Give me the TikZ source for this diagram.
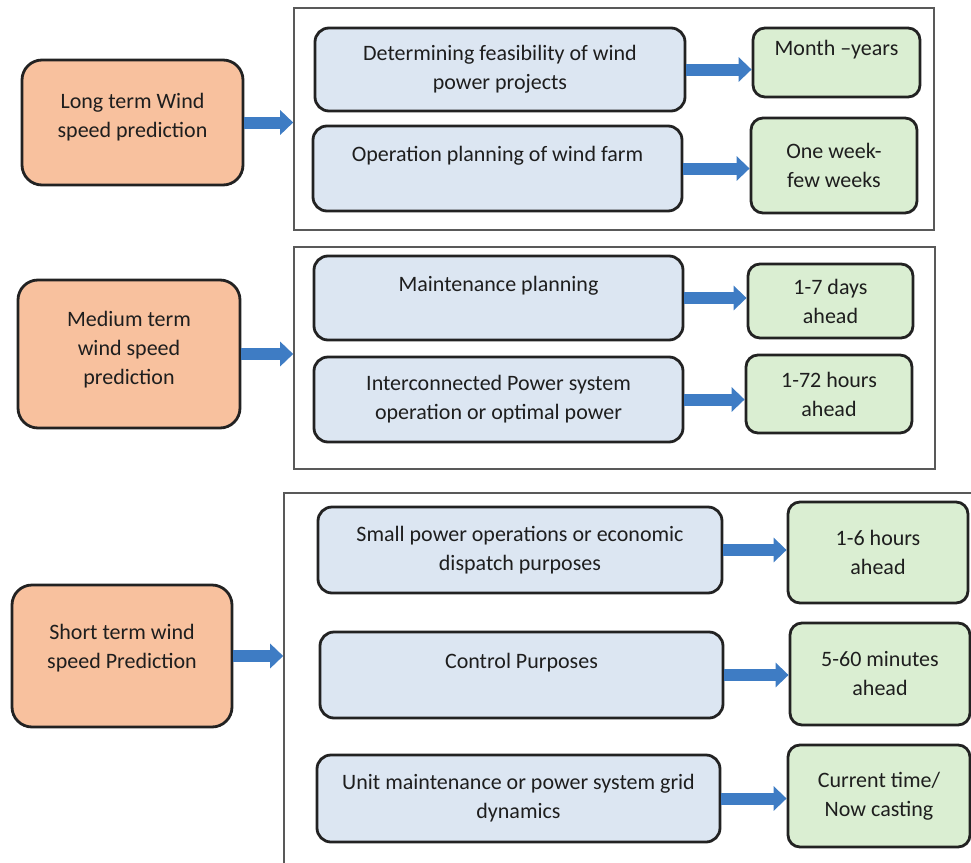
\documentclass[tikz,border=0pt]{standalone}
\usepackage{fontspec}
\setmainfont{Carlito}
\usetikzlibrary{arrows.meta}

\definecolor{termfill}{RGB}{248,193,158}
\definecolor{taskfill}{RGB}{220,230,242}
\definecolor{horizonfill}{RGB}{218,238,210}
\definecolor{flowblue}{RGB}{62,124,196}
\definecolor{edgegray}{RGB}{34,34,34}
\definecolor{textgray}{RGB}{30,30,30}

\tikzset{
  base/.style={draw=edgegray, line width=1.4pt, align=center, text=textgray,
    font=\fontsize{11}{14.5}\selectfont, inner sep=2pt},
  term/.style={base, fill=termfill, rounded corners=10pt},
  task/.style={base, fill=taskfill, rounded corners=7pt},
  horizon/.style={base, fill=horizonfill, rounded corners=6pt},
  group/.style={draw=black!65, line width=0.8pt},
  flow/.style={draw=flowblue, line width=6pt, -{Triangle[length=6.5pt,width=12pt]}},
}

\begin{document}
\begin{tikzpicture}[x=0.5pt,y=-0.5pt]
    \useasboundingbox (0,0) rectangle (971,863);
    \clip (0,0) rectangle (971,863);

    % Frames
    \node[group, minimum width=320pt, minimum height=111pt] (fl) at (614,119) {};
    \node[group, minimum width=320.5pt, minimum height=111pt] (fm) at (614.5,358) {};
    \node[group, minimum width=358pt, minimum height=203.5pt] (fs) at (642,696.5) {};

    % Prediction terms
    \node[term, minimum width=110.5pt, minimum height=62.5pt] (long) at (132.5,122.5) {Long term Wind\\speed prediction\\[-7pt]\mbox{}};
    \node[term, minimum width=111pt, minimum height=74pt] (medium) at (129,354) {Medium term\\wind speed\\prediction\\[-8pt]\mbox{}};
    \node[term, minimum width=110pt, minimum height=71pt] (short) at (122,656) {Short term wind\\speed Prediction\\[-5pt]\mbox{}};

    % Applications
    \node[task, minimum width=185pt, minimum height=41.5pt] (t1) at (500,69.5) {Determining feasibility of wind\\power projects};
    \node[task, minimum width=184.5pt, minimum height=42.5pt] (t2) at (497.5,168.5) {Operation planning of wind farm\\ \mbox{}};
    \node[task, minimum width=184.5pt, minimum height=42pt] (t3) at (498.5,298) {Maintenance planning\\ \mbox{}};
    \node[task, minimum width=184.5pt, minimum height=42.5pt] (t4) at (498.5,399.5) {Interconnected Power system\\operation or optimal power};
    \node[task, minimum width=202pt, minimum height=43pt] (t5) at (520,550) {Small power operations or economic\\dispatch purposes};
    \node[task, minimum width=201.5pt, minimum height=43pt] (t6) at (521.5,675) {Control Purposes\\ \mbox{}};
    \node[task, minimum width=201.5pt, minimum height=43.5pt] (t7) at (518.5,798.5) {Unit maintenance or power system grid\\dynamics};

    % Time horizons
    \node[horizon, minimum width=83.5pt, minimum height=34.5pt] (h1) at (836.5,62.5) {Month –years\\ \mbox{}};
    \node[horizon, minimum width=83pt, minimum height=47.5pt] (h2) at (834,165.5) {One week-\\few weeks};
    \node[horizon, minimum width=82.5pt, minimum height=37pt] (h3) at (830.5,301) {1-7 days\\ahead};
    \node[horizon, minimum width=83pt, minimum height=39pt] (h4) at (829,394) {1-72 hours\\ahead};
    \node[horizon, minimum width=90pt, minimum height=50.5pt] (h5) at (878,552.5) {1-6 hours\\ahead};
    \node[horizon, minimum width=90pt, minimum height=51pt] (h6) at (880,674) {5-60 minutes\\ahead};
    \node[horizon, minimum width=91pt, minimum height=51pt] (h7) at (879,796) {Current time/\\Now casting};

    % Arrows
    \draw[flow] (long.east) -- (long.east -| fl.west);
    \draw[flow] (medium.east) -- (medium.east -| fm.west);
    \draw[flow] (short.east) -- (short.east -| fs.west);
    \foreach \i in {1,...,7}
        \draw[flow] (t\i.east) -- (t\i.east -| h\i.west);

\end{tikzpicture}
\end{document}
